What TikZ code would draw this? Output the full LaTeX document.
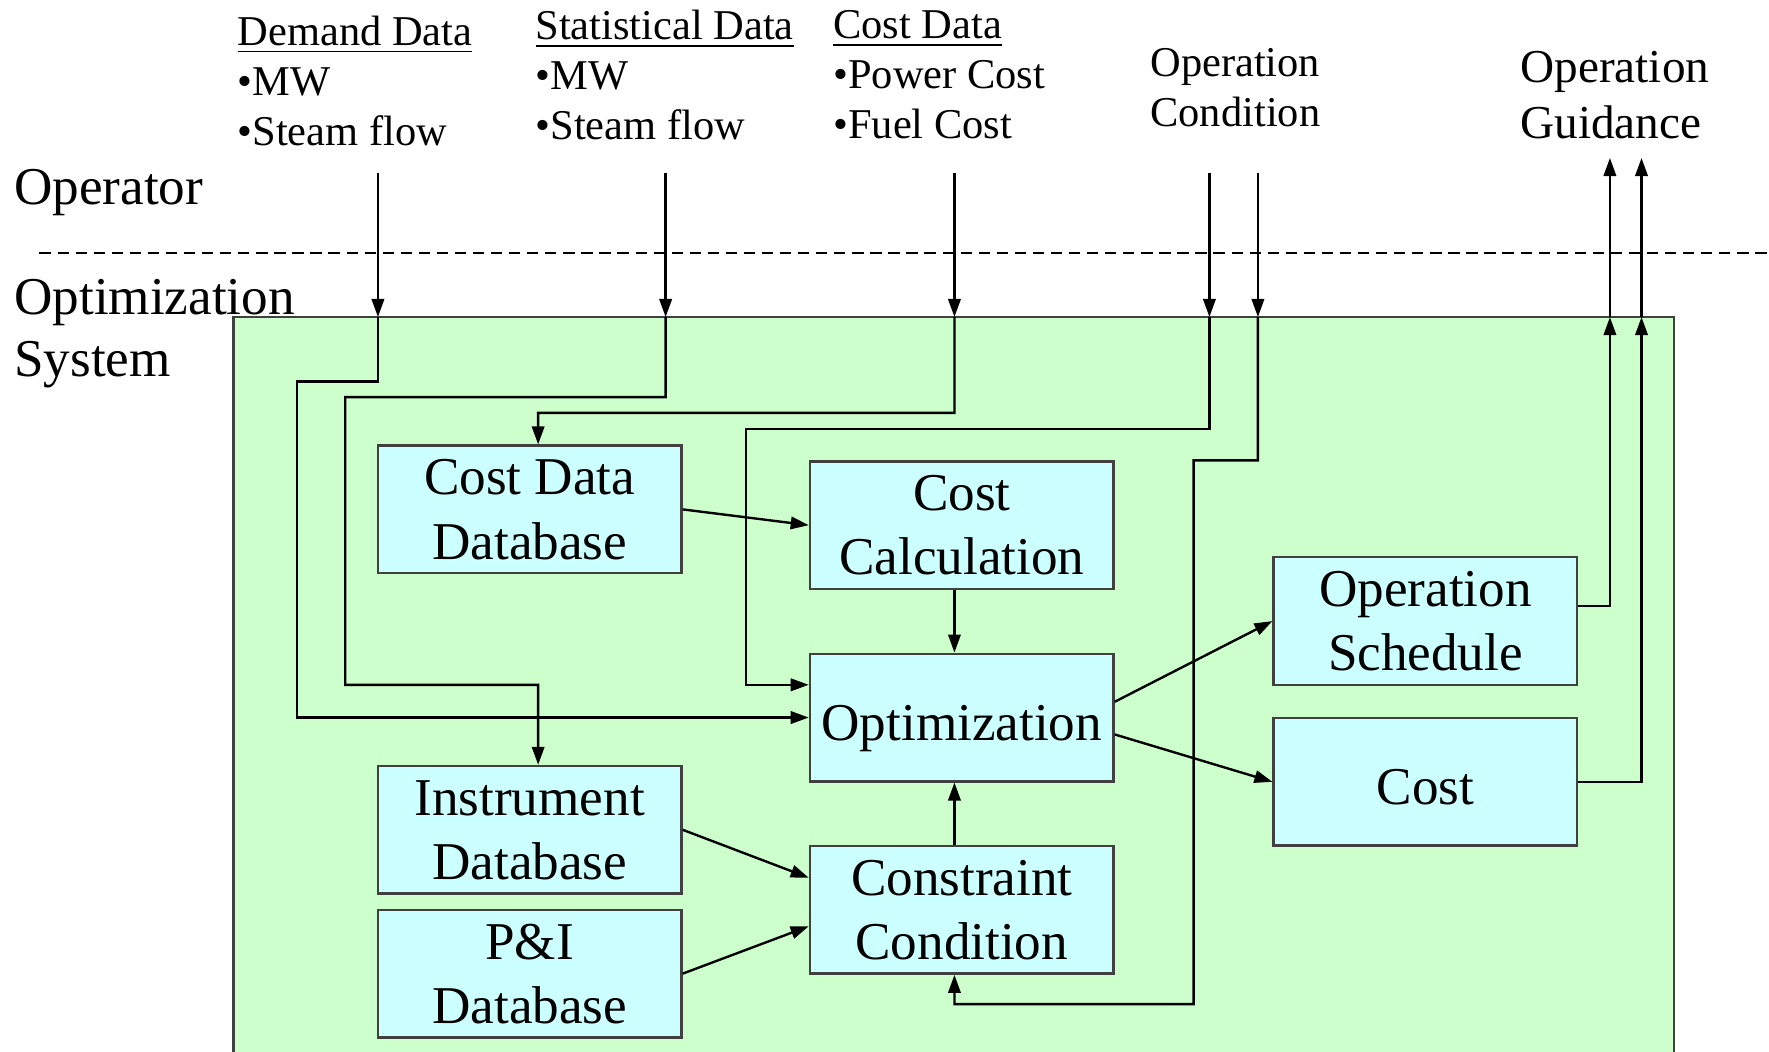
\documentclass[tikz,border=0pt]{standalone}
\usepackage{fontspec}
\setmainfont{Liberation Serif}
\usetikzlibrary{arrows.meta}
\definecolor{sysgreen}{HTML}{CCFFCC}
\definecolor{blockcyan}{HTML}{CCFFFF}

\begin{document}
\begin{tikzpicture}[
  x=0.01cm, y=-0.01cm,
  font=\fontsize{13.4}{16.2}\selectfont,
  block/.style={draw=black!75, fill=blockcyan, line width=0.6pt,
    minimum width=2.69cm, minimum height=1.13cm, inner sep=0pt, align=center,
    text depth=0pt, execute at begin node={\rule{0pt}{11.4pt}}},
  sidelabel/.style={anchor=base west, inner sep=0pt, align=left,
    font=\fontsize{13.4}{15.6}\selectfont},
  toplabel/.style={anchor=base west, inner sep=0pt, align=left,
    font=\fontsize{10.7}{12.6}\selectfont},
  flow/.style={-{Triangle[length=1.6mm,width=1.1mm]}, line width=0.6pt},
]
  \useasboundingbox (0,0) rectangle (1568,932);

  % operator side
  \node[sidelabel] (oper) at (12,181) {Operator};
  \node[sidelabel] (optsys) at (12,334) {Optimization\\System};
  \draw[dashed, dash pattern=on 1mm off 0.6mm, line width=0.5pt] (35,224) -- (1568,224);

  \node[toplabel] (demand) at (210,129) {\underline{Demand Data}\\•MW\\•Steam flow};
  \node[toplabel] (stat) at (474,124) {\underline{Statistical Data}\\•MW\\•Steam flow};
  \node[toplabel] (costdata) at (738,123) {\underline{Cost Data}\\•Power Cost\\•Fuel Cost};
  \node[toplabel] (opcond) at (1019,112) {Operation\\Condition};
  \node[toplabel, font=\fontsize{11.9}{14.2}\selectfont] (guide) at (1347,123) {Operation\\Guidance};

  % optimization system
  \draw[fill=sysgreen, draw=black!75, line width=0.6pt] (207,281) rectangle (1484,960);

  \node[block] (cdb) at (469.5,451.5) {Cost Data\\Database};
  \node[block] (calc) at (852.5,465.5) {Cost\\Calculation};
  \node[block] (opt) at (852.5,636) {Optimization};
  \node[block] (idb) at (469.5,735.5) {Instrument\\Database};
  \node[block] (pid) at (469.5,863) {P\&I\\Database};
  \node[block] (con) at (852.5,806.5) {Constraint\\Condition};
  \node[block] (sched) at (1263.5,550.5) {Operation\\Schedule};
  \node[block] (cost) at (1263.5,693) {Cost};

  \coordinate (dtop) at (335,153);
  \coordinate (stop) at (590,153);
  \coordinate (ctop) at (846,153);
  \coordinate (oatop) at (1072,153);
  \coordinate (obtop) at (1115,153);
  \coordinate (gatop) at (1427,140);
  \coordinate (gbtop) at (1455,140);
  \coordinate (din) at (335,281);
  \coordinate (sin) at (590,281);
  \coordinate (cin) at (846,281);
  \coordinate (oain) at (1072,281);
  \coordinate (obin) at (1115,281);
  \coordinate (gain) at (1427,281);
  \coordinate (gbin) at (1455,281);

  \draw[flow] (dtop) -- (din);
  \draw[flow] (stop) -- (sin);
  \draw[flow] (ctop) -- (cin);
  \draw[flow] (oatop) -- (oain);
  \draw[flow] (obtop) -- (obin);
  \draw[flow] (gain) -- (gatop);
  \draw[flow] (gbin) -- (gbtop);

  \draw[flow] (din) |- (263,338) |- (opt.west);
  \draw[flow] (sin) |- (306,352) |- (477,607) -- ([xshift=0.075cm]idb.north);
  \draw[flow] (cin) |- (477,366) -- ([xshift=0.075cm]cdb.north);
  \draw[flow] (oain) |- (661,380) |- ([yshift=0.29cm]opt.west);
  \draw[flow] (obin) |- (1058,408) |- (846,890) -- ([xshift=-0.065cm]con.south);

  \draw[flow] (cdb.east) -- (calc.west);
  \draw[flow] ([xshift=-0.065cm]calc.south) -- ([xshift=-0.065cm]opt.north);
  \draw[flow] ([xshift=-0.065cm]con.north) -- ([xshift=-0.065cm]opt.south);
  \draw[flow] (idb.east) -- ([yshift=0.285cm]con.west);
  \draw[flow] (pid.east) -- ([yshift=-0.145cm]con.west);
  \draw[flow] ([yshift=0.14cm]opt.east) -- (sched.west);
  \draw[flow] ([yshift=-0.15cm]opt.east) -- (cost.west);
  \draw[flow] ([yshift=0.135cm]sched.east) -| (gain);
  \draw[flow] (cost.east) -| (gbin);
\end{tikzpicture}
\end{document}
